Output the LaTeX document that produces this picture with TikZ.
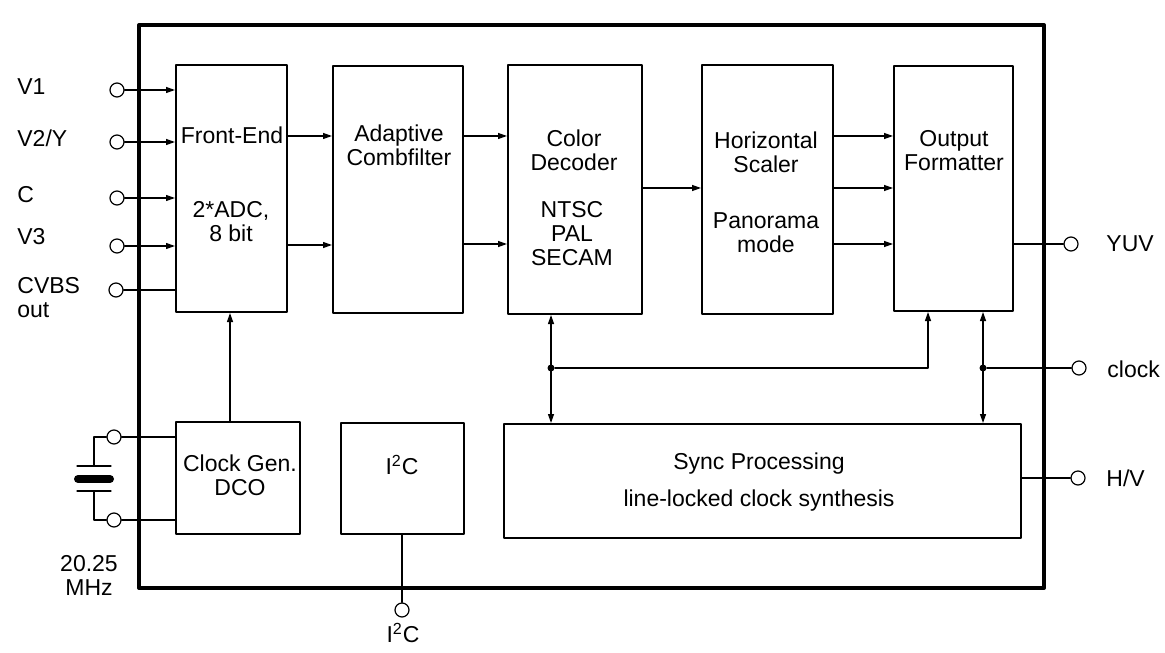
\documentclass[tikz,border=0pt]{standalone}
\usepackage{fontspec}
\setmainfont{Liberation Sans}
\usetikzlibrary{arrows.meta}

\begin{document}
\begin{tikzpicture}[line cap=round,line join=round,>={Triangle[length=4.5pt,width=3pt]},x=0.5pt,y=-0.5pt,
		every node/.style={font=\fontsize{11.5}{12}\selectfont,inner sep=0pt},
		blk/.style={draw,rectangle,line width=1pt},
		txt/.style={align=center},
		pin/.style={draw,circle,fill=white,minimum size=7pt,line width=0.6pt},
		jn/.style={fill,circle,minimum size=3.5pt},
		wire/.style={line width=0.6pt}]
		\useasboundingbox (0,0) rectangle (1165,652);
		\draw[line width=2pt] (139,25) rectangle (1044,588);
	% blocks
		\node[blk,minimum width=55.5pt,minimum height=123.5pt] (fe) at (231.5,188.5) {};
		\node[blk,minimum width=65pt,minimum height=123.5pt] (cf) at (398,189.5) {};
		\node[blk,minimum width=67pt,minimum height=124.5pt] (cd) at (575,189.5) {};
		\node[blk,minimum width=65.5pt,minimum height=124.5pt] (hs) at (767.5,189.5) {};
		\node[blk,minimum width=59.5pt,minimum height=122.5pt] (of) at (953.5,188.5) {};
		\node[blk,minimum width=62pt,minimum height=56pt] (cg) at (238,478) {};
		\node[blk,minimum width=61.5pt,minimum height=55.5pt] (i2c) at (402.5,478.5) {};
		\node[blk,minimum width=258.5pt,minimum height=57pt] (sp) at (762.5,481) {};
		\node (feA) at (232,135) {Front-End};
		\node[txt] (feB) at (231,222) {2*ADC,\\8 bit};
		\node[txt] (cfA) at (399,145) {Adaptive\\Combfilter};
		\node[txt] (cdA) at (574,150) {Color\\Decoder};
		\node[txt] (cdB) at (572,234) {NTSC\\PAL\\SECAM};
		\node[txt] (hsA) at (766,152) {Horizontal\\Scaler};
		\node[txt] (hsB) at (766,233) {Panorama\\mode};
		\node[txt] (ofA) at (954,151) {Output\\Formatter};
		\node[txt] (cgA) at (240,475) {Clock Gen.\\DCO};
		\node (i2cA) at (402,465) {I\textsuperscript{2}C};
		\node[txt] (spA) at (759,482) {Sync Processing\\[6.5pt]line-locked clock synthesis};
	% pins
		\node[pin] (v1) at (117,90) {};
		\node[pin] (v2) at (117,142) {};
		\node[pin] (c) at (117,198) {};
		\node[pin] (v3) at (117,246) {};
		\node[pin] (cvbs) at (116,290) {};
		\node[pin] (xt1) at (114,437) {};
		\node[pin] (xt2) at (114,520) {};
		\node[pin] (i2cp) at (402,610) {};
		\node[pin] (yuv) at (1071,244) {};
		\node[pin] (clk) at (1079,368) {};
		\node[pin] (hv) at (1078,478) {};
		\node[anchor=west] at (17,87) {V1};
		\node[anchor=west] at (17,138) {V2/Y};
		\node[anchor=west] at (17,195) {C};
		\node[anchor=west] at (17,237) {V3};
		\node[anchor=west,align=left] at (17,298) {CVBS\\out};
		\node[txt] at (89,575) {20.25\\MHz};
		\node at (403,633) {I\textsuperscript{2}C};
		\node[anchor=west] at (1106,244) {YUV};
		\node[anchor=west] at (1107,369) {clock};
		\node[anchor=west] at (1106,478) {H/V};
	% connections
		\draw[wire,->] (v1) -- (v1 -| fe.west);
		\draw[wire,->] (v2) -- (v2 -| fe.west);
		\draw[wire,->] (c) -- (c -| fe.west);
		\draw[wire,->] (v3) -- (v3 -| fe.west);
		\draw[wire] (cvbs) -- (cvbs -| fe.west);
		\draw[wire,->] (fe.east |- 0,136) -- (cf.west |- 0,136);
		\draw[wire,->] (fe.east |- 0,245) -- (cf.west |- 0,245);
		\draw[wire,->] (cf.east |- 0,136) -- (cd.west |- 0,136);
		\draw[wire,->] (cf.east |- 0,244) -- (cd.west |- 0,244);
		\draw[wire,->] (cd.east |- 0,188) -- (hs.west |- 0,188);
		\draw[wire,->] (hs.east |- 0,136) -- (of.west |- 0,136);
		\draw[wire,->] (hs.east |- 0,188) -- (of.west |- 0,188);
		\draw[wire,->] (hs.east |- 0,244) -- (of.west |- 0,244);
		\draw[wire] (of.east |- yuv) -- (yuv);
		\draw[wire] (sp.east |- hv) -- (hv);
		\draw[wire,->] (cg.north -| 230,0) -- (fe.south -| 230,0);
		\draw[wire] (i2c.south -| i2cp) -- (i2cp);
		\draw[wire] (xt1) -- (xt1 -| cg.west);
		\draw[wire] (xt2) -- (xt2 -| cg.west);
	% crystal
		\draw[wire] (xt1) -| (94,466);
		\draw[wire] (77,466) -- (111,466);
		\draw[line width=4pt] (78,479) -- (110,479);
		\draw[wire] (77,491) -- (111,491);
		\draw[wire] (94,491) |- (xt2);
	% clock buses
		\node[jn] (j1) at (551,368) {};
		\node[jn] (j2) at (983,368) {};
		\draw[wire,<->] (cd.south -| j1) -- (sp.north -| j1);
		\draw[wire,->] (j1) -| (of.south -| 928,0);
		\draw[wire,<->] (of.south -| j2) -- (sp.north -| j2);
		\draw[wire] (j2) -- (clk);
	\end{tikzpicture}
\end{document}
